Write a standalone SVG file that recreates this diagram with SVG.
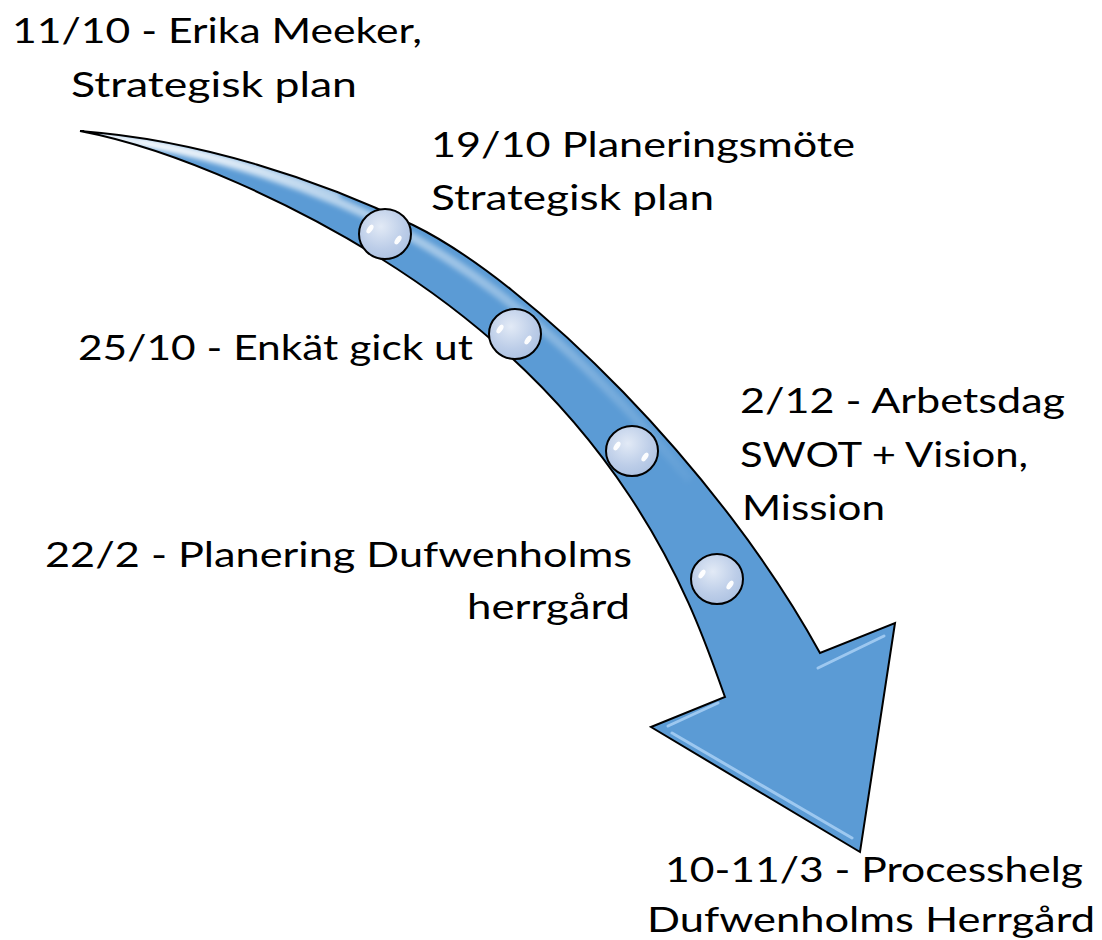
<svg xmlns="http://www.w3.org/2000/svg" width="1102" height="940" viewBox="0 0 1102 940">
  <style>
    .lbl { font-family: Lato, "Open Sans", "Liberation Sans", sans-serif; font-size: 34px; font-weight: 400; fill: #000; }
    .bead { fill: url(#beadFill); stroke: #000; stroke-width: 2; }
    .glint { fill: #fff; opacity: 0.95; }
    .bevel { fill: none; stroke: #a9d0f5; stroke-width: 3; stroke-linecap: round; opacity: 0.85; }
  </style>
  <defs>
    <radialGradient id="beadFill" cx="0.42" cy="0.35" r="0.75">
      <stop offset="0" stop-color="#e2eaf6"/>
      <stop offset="0.6" stop-color="#bccde8"/>
      <stop offset="1" stop-color="#a9bfe0"/>
    </radialGradient>
    <linearGradient id="gloss" gradientUnits="userSpaceOnUse" x1="100" y1="130" x2="720" y2="500">
      <stop offset="0" stop-color="#ffffff" stop-opacity="0.95"/>
      <stop offset="0.35" stop-color="#ffffff" stop-opacity="0.55"/>
      <stop offset="1" stop-color="#ffffff" stop-opacity="0"/>
    </linearGradient>
    <filter id="soft" x="-10%" y="-10%" width="120%" height="120%">
      <feGaussianBlur stdDeviation="2.5"/>
    </filter>
    <clipPath id="arrowClip">
      <path d="M80,131 C200,140 320,180 413,225 C530,282 720,470 820,653 L895,623 L860,852 L651,727 L725,697 C700,630 640,420 380,258 C300,208 180,150 80,131 Z"/>
    </clipPath>
  </defs>

  <g id="timeline-arrow">
    <path d="M80,131 C200,140 320,180 413,225 C530,282 720,470 820,653 L895,623 L860,852 L651,727 L725,697 C700,630 640,420 380,258 C300,208 180,150 80,131 Z" fill="#5b9bd5"/>
    <g clip-path="url(#arrowClip)">
      <path d="M100,136 C210,150 320,188 410,236 C510,292 600,372 690,480" fill="none" stroke="url(#gloss)" stroke-width="9" filter="url(#soft)"/>
      <path d="M140,142 C220,154 290,176 340,196" fill="none" stroke="#ffffff" stroke-width="3" opacity="0.8" filter="url(#soft)"/>
    </g>
    <path class="bevel" d="M668,726 L718,703"/>
    <path class="bevel" d="M672,733 L852,838"/>
    <path class="bevel" d="M818,668 L884,636"/>
    <path d="M80,131 C200,140 320,180 413,225 C530,282 720,470 820,653 L895,623 L860,852 L651,727 L725,697 C700,630 640,420 380,258 C300,208 180,150 80,131 Z" fill="none" stroke="#000" stroke-width="2" stroke-linejoin="miter"/>
  </g>

  <g id="bead-1">
    <ellipse class="bead" cx="385" cy="234" rx="26" ry="25"/>
    <ellipse class="glint" cx="370" cy="229" rx="2.5" ry="5" transform="rotate(35 370 229)"/>
    <ellipse class="glint" cx="398" cy="240" rx="2.5" ry="5" transform="rotate(35 398 240)"/>
  </g>
  <g id="bead-2">
    <ellipse class="bead" cx="515" cy="334" rx="26" ry="25"/>
    <ellipse class="glint" cx="500" cy="329" rx="2.5" ry="5" transform="rotate(35 500 329)"/>
    <ellipse class="glint" cx="528" cy="340" rx="2.5" ry="5" transform="rotate(35 528 340)"/>
  </g>
  <g id="bead-3">
    <ellipse class="bead" cx="632" cy="451" rx="26" ry="25"/>
    <ellipse class="glint" cx="617" cy="446" rx="2.5" ry="5" transform="rotate(35 617 446)"/>
    <ellipse class="glint" cx="645" cy="457" rx="2.5" ry="5" transform="rotate(35 645 457)"/>
  </g>
  <g id="bead-4">
    <ellipse class="bead" cx="717" cy="579" rx="26" ry="25"/>
    <ellipse class="glint" cx="702" cy="574" rx="2.5" ry="5" transform="rotate(35 702 574)"/>
    <ellipse class="glint" cx="730" cy="585" rx="2.5" ry="5" transform="rotate(35 730 585)"/>
  </g>

  <g id="label-1110">
    <text class="lbl" x="12" y="43" textLength="410" lengthAdjust="spacingAndGlyphs">11/10 - Erika Meeker,</text>
    <text class="lbl" x="71" y="97" textLength="286" lengthAdjust="spacingAndGlyphs">Strategisk plan</text>
  </g>
  <g id="label-1910">
    <text class="lbl" x="431" y="157" textLength="424" lengthAdjust="spacingAndGlyphs">19/10 Planeringsmöte</text>
    <text class="lbl" x="431" y="210" textLength="283" lengthAdjust="spacingAndGlyphs">Strategisk plan</text>
  </g>
  <g id="label-2510">
    <text class="lbl" x="78" y="360" textLength="395" lengthAdjust="spacingAndGlyphs">25/10 - Enkät gick ut</text>
  </g>
  <g id="label-212">
    <text class="lbl" x="740" y="413" textLength="325" lengthAdjust="spacingAndGlyphs">2/12 - Arbetsdag</text>
    <text class="lbl" x="740" y="467" textLength="288" lengthAdjust="spacingAndGlyphs">SWOT + Vision,</text>
    <text class="lbl" x="742" y="520" textLength="143" lengthAdjust="spacingAndGlyphs">Mission</text>
  </g>
  <g id="label-222">
    <text class="lbl" x="45" y="567" textLength="587" lengthAdjust="spacingAndGlyphs">22/2 - Planering Dufwenholms</text>
    <text class="lbl" x="467" y="619" textLength="163" lengthAdjust="spacingAndGlyphs">herrgård</text>
  </g>
  <g id="label-1011">
    <text class="lbl" x="665" y="882" textLength="418" lengthAdjust="spacingAndGlyphs">10-11/3 - Processhelg</text>
    <text class="lbl" x="647" y="932" textLength="448" lengthAdjust="spacingAndGlyphs">Dufwenholms Herrgård</text>
  </g>
  <g id="connectors"/>
</svg>
